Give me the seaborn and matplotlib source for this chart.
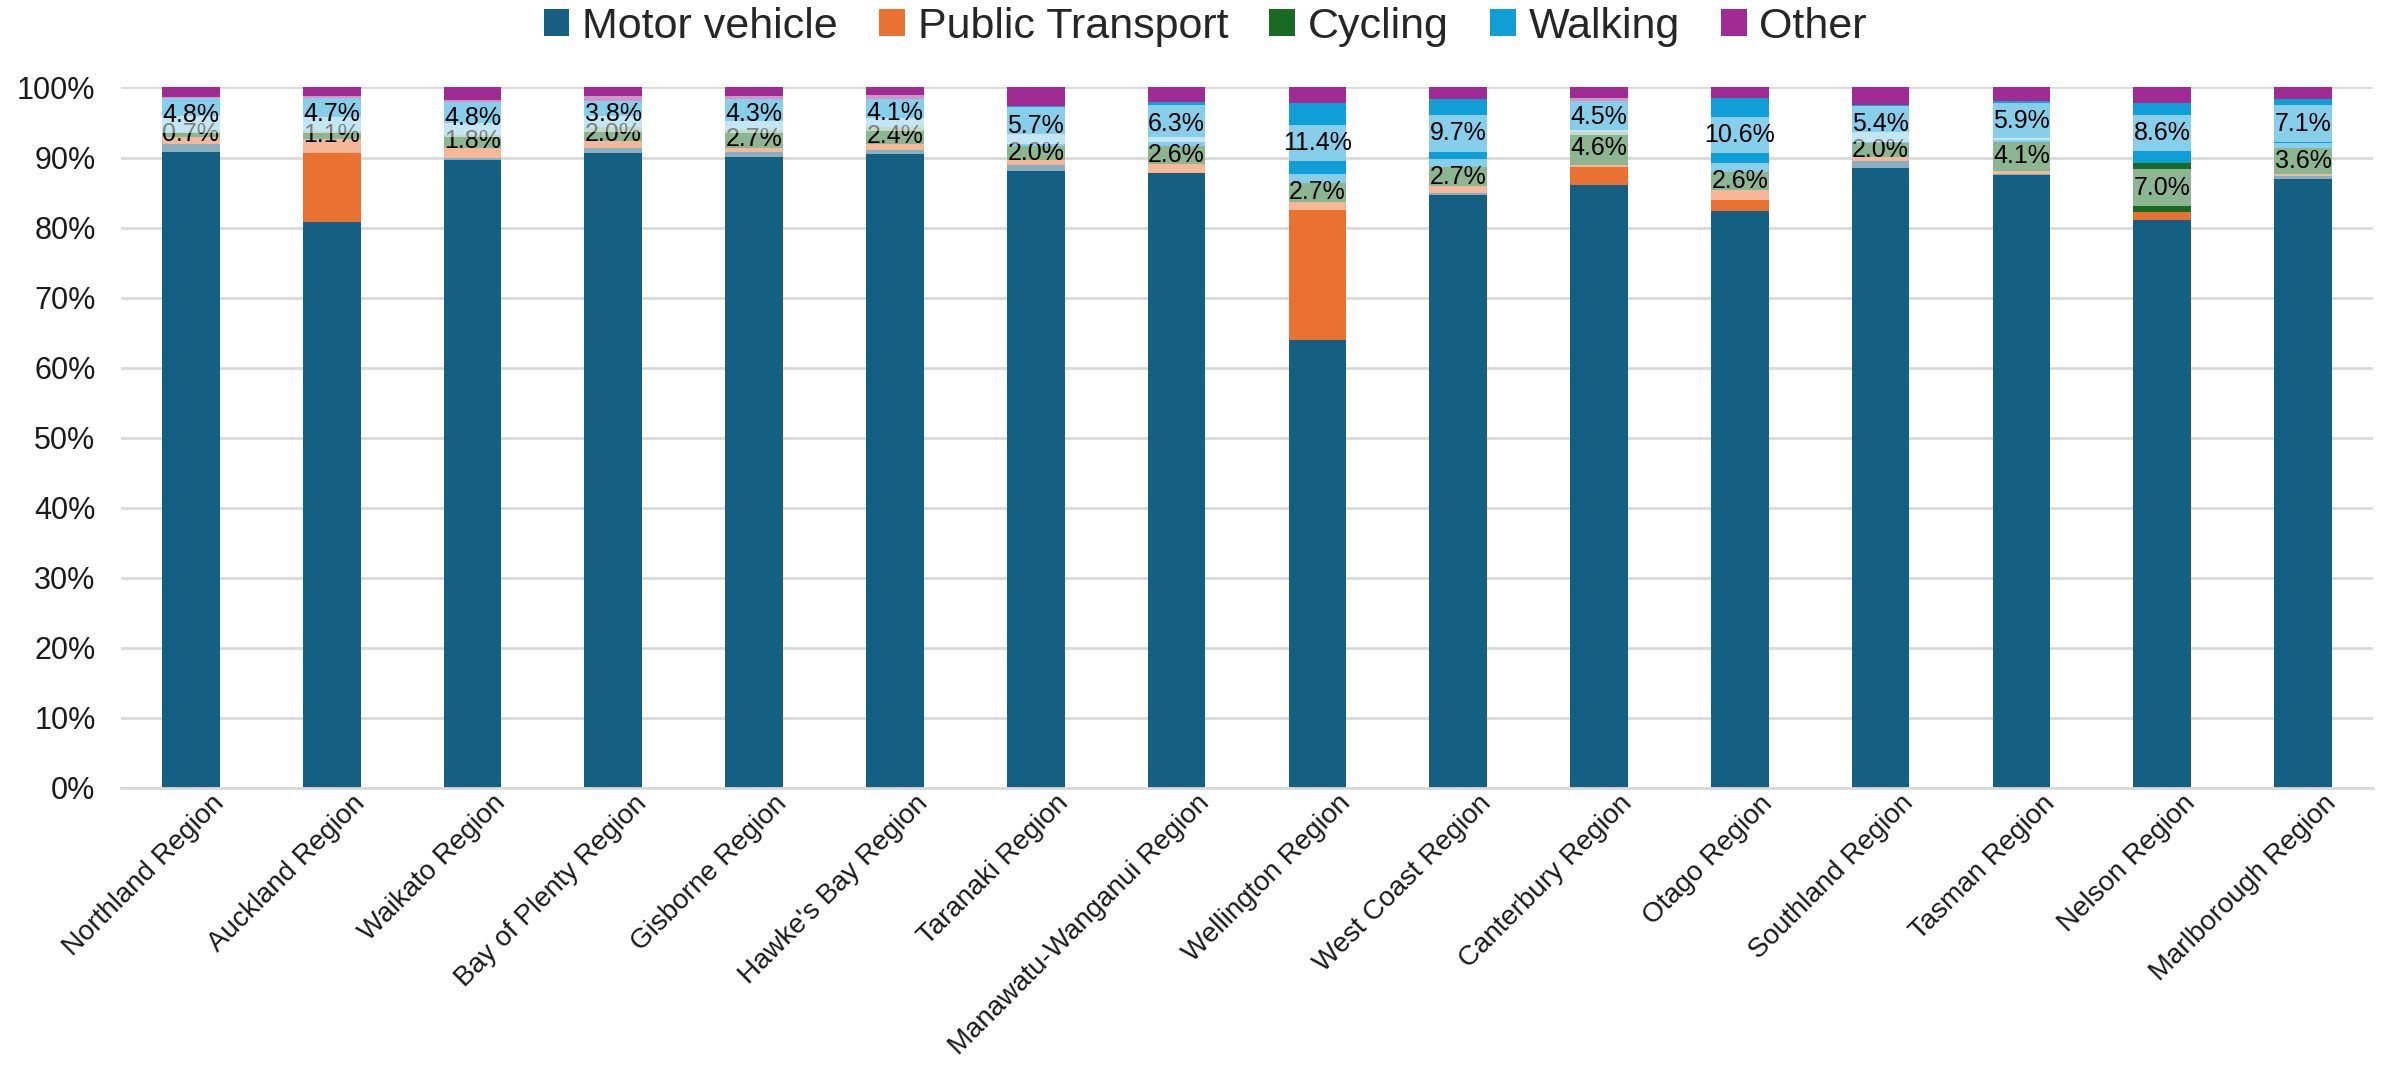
import numpy as np
import matplotlib
matplotlib.use("Agg")
import matplotlib.pyplot as plt
import matplotlib.transforms as mtransforms
from matplotlib.patches import Patch
from matplotlib.ticker import PercentFormatter
import seaborn as sns

regions = ["Northland Region", "Auckland Region", "Waikato Region", "Bay of Plenty Region",
           "Gisborne Region", "Hawke's Bay Region", "Taranaki Region", "Manawatu-Wanganui Region",
           "Wellington Region", "West Coast Region", "Canterbury Region", "Otago Region",
           "Southland Region", "Tasman Region", "Nelson Region", "Marlborough Region"]

motor_vehicle = [92.0, 80.8, 89.9, 91.3, 90.8, 91.1, 89.0, 87.8, 64.0, 85.0, 86.1, 82.3, 89.5, 87.6, 81.1, 87.4]
public_transport = [1.0, 11.9, 1.5, 1.0, 0.5, 0.8, 0.7, 1.3, 19.7, 0.9, 2.9, 3.0, 0.6, 0.5, 1.1, 0.3]
cycling = [0.7, 1.1, 1.8, 2.0, 2.7, 2.4, 2.0, 2.6, 2.7, 2.7, 4.6, 2.6, 2.0, 4.1, 7.0, 3.6]
walking = [4.8, 4.7, 4.8, 3.8, 4.3, 4.1, 5.7, 6.3, 11.4, 9.7, 4.5, 10.6, 5.4, 5.9, 8.6, 7.1]
other = [1.5, 1.5, 2.0, 1.9, 1.7, 1.6, 2.6, 2.0, 2.2, 1.7, 1.9, 1.5, 2.5, 1.9, 2.2, 1.6]

modes = ["Motor vehicle", "Public Transport", "Cycling", "Walking", "Other"]
colors = ["#156082", "#E97132", "#196B24", "#0F9ED5", "#A02B93"]

sns.set_theme(style="white")
plt.rcParams["font.family"] = ["Liberation Sans", "DejaVu Sans"]

fig = plt.figure(figsize=(23.82, 10.67), dpi=100)
ax = fig.add_axes([0.0506, 0.2615, 0.9458, 0.6565])

series = np.array([motor_vehicle, public_transport, cycling, walking, other])
cum = np.cumsum(series, axis=0)
bar_w = 0.41

# draw tallest cumulative first so each lower layer covers it
for i in range(len(modes) - 1, -1, -1):
    sns.barplot(x=regions, y=cum[i], color=colors[i], saturation=1, width=bar_w,
                linewidth=0, ax=ax, zorder=2)

x = np.arange(len(regions))
box_h = 5.2

# semi-transparent label boxes, cycling then walking
cyc_mid = cum[1] + np.array(cycling) / 2
walk_mid = cum[2] + np.array(walking) / 2
ax.bar(x, box_h, bottom=cyc_mid - box_h / 2, width=bar_w, color="white", alpha=0.5,
       linewidth=0, zorder=3)
for xi, y, v in zip(x, cyc_mid, cycling):
    ax.text(xi, y, f"{v:.1f}%", ha="center", va="center", fontsize=18, color="black", zorder=4)
ax.bar(x, box_h, bottom=walk_mid - box_h / 2, width=bar_w, color="white", alpha=0.5,
       linewidth=0, zorder=5)
for xi, y, v in zip(x, walk_mid, walking):
    ax.text(xi, y, f"{v:.1f}%", ha="center", va="center", fontsize=18, color="black", zorder=6)

ax.set_xlim(-0.5, len(regions) - 0.5)
ax.set_ylim(0, 100)
ax.set_yticks(np.arange(0, 101, 10))
ax.yaxis.set_major_formatter(PercentFormatter(100, decimals=0))
ax.yaxis.grid(True, color="#D9D9D9", linewidth=2)
ax.set_axisbelow(True)
for s in ["top", "right", "left"]:
    ax.spines[s].set_visible(False)
ax.spines["bottom"].set_color("#D9D9D9")
ax.spines["bottom"].set_linewidth(2)
ax.tick_params(axis="y", length=0, labelsize=22, labelcolor="#1a1a1a", pad=18)
ax.tick_params(axis="x", length=0, labelsize=20, labelcolor="#1a1a1a", pad=6)
ax.set_xlabel("")
ax.set_ylabel("")
shift = mtransforms.ScaledTranslation(0.2, 0.06, fig.dpi_scale_trans)
for lab in ax.get_xticklabels():
    lab.set_rotation(45)
    lab.set_ha("right")
    lab.set_rotation_mode("anchor")
    lab.set_transform(lab.get_transform() + shift)

handles = [Patch(facecolor=c, edgecolor="none", label=m) for m, c in zip(modes, colors)]
fig.legend(handles=handles, loc="upper center", bbox_to_anchor=(0.506, 1.03), ncol=5,
           frameon=False, fontsize=31, handlelength=0.6, handleheight=0.6,
           handletextpad=0.3, columnspacing=0.95)

fig.savefig("out.png", dpi=100)
